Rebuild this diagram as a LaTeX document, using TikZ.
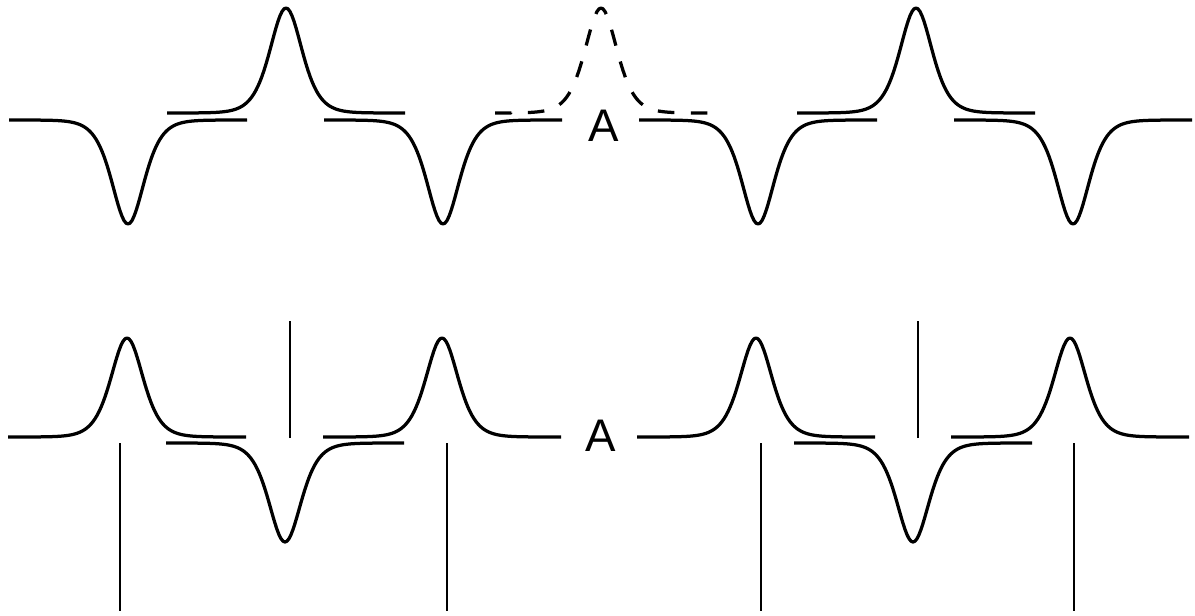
\documentclass[tikz,border=0pt]{standalone}
\usepackage{fontspec}
\setmainfont{Liberation Sans}
\tikzset{
  wave/.style={line width=0.065cm,line join=round},
  marker/.style={line width=0.045cm},
  ghost/.style={dash pattern=on 0.33cm off 0.33cm,dash phase=0.4cm},
  lbl/.style={font=\fontsize{26}{30}\selectfont,inner sep=0pt}
}
% sech^2 pulse: [opts]{centre}{baseline}{amplitude}{half length}
\newcommand{\gpulse}[5][]{%
  \draw[wave,#1] ({#2-#5},#3) -- ({#2-90},#3)
    -- plot[domain=#2-90:#2+90,samples=91] (\x,{#3+#4/cosh((\x-#2)/21.5)^2})
    -- ({#2+#5},#3);}

\begin{document}
\begin{tikzpicture}[x=0.02cm,y=-0.02cm]
  \useasboundingbox (0,0) rectangle (1195,615);
  % upper train
  \foreach \c in {128,443,758,1073}
    \gpulse{\c}{120}{104}{119};
  \foreach \c in {286,916}
    \gpulse{\c}{113}{-105}{119};
  \gpulse[ghost]{601}{113}{-105}{119};
  \node[lbl] (atop) at (604,126) {A};
  % lower train
  \foreach \c in {127,442,756,1070}
    \gpulse{\c}{437}{-99}{119};
  \foreach \c in {285,913}
    \gpulse{\c}{443}{99}{119};
  \node[lbl] (abot) at (601,436) {A};
  % markers
  \foreach \c in {120,447,761,1074}
    \draw[marker] (\c,443) -- (\c,611);
  \foreach \c in {290,918}
    \draw[marker] (\c,438) -- (\c,321);
\end{tikzpicture}
\end{document}
